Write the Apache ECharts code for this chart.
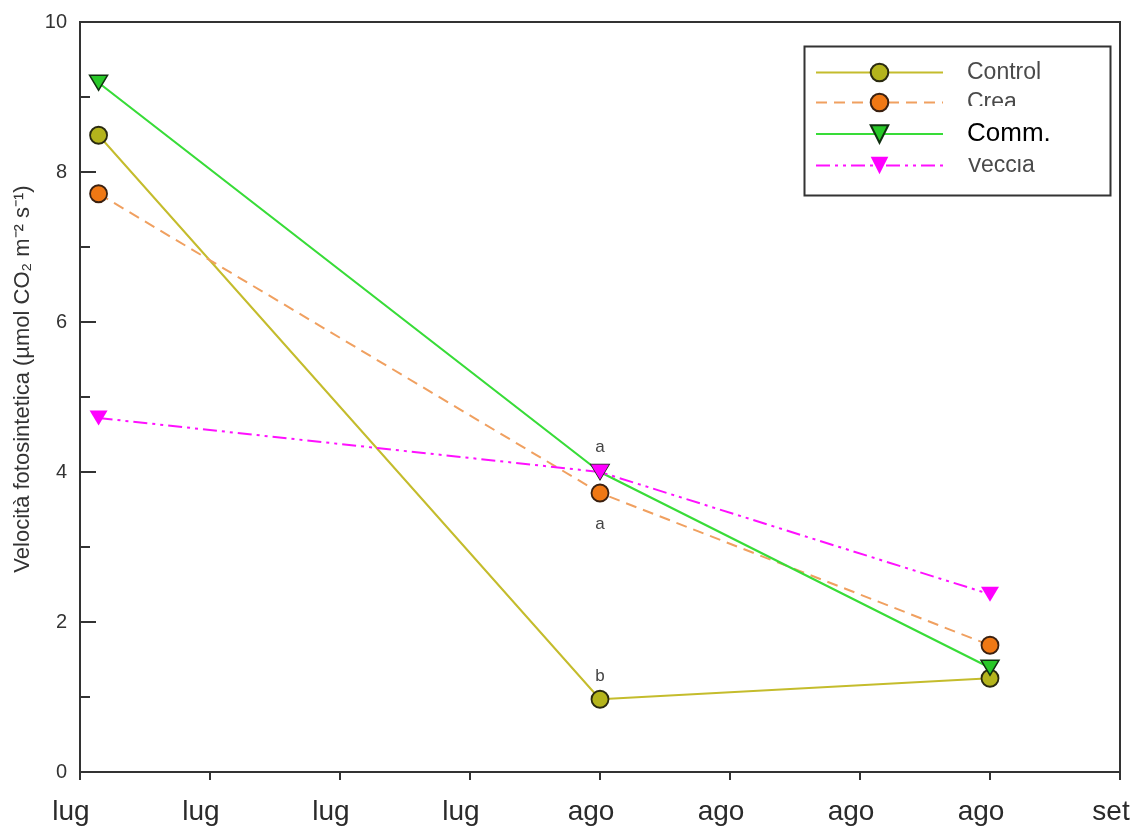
<!DOCTYPE html>
<html><head><meta charset="utf-8">
<script src="https://cdn.jsdelivr.net/npm/echarts@6/dist/echarts.min.js"></script>
<style>html,body{margin:0;padding:0;background:#fff}#c{width:1137px;height:832px}</style>
</head><body><div id="c"></div>
<script>
const tickLabels = ['lug','lug','lug','lug','ago','ago','ago','ago','set'];
const xDays = [1, 28, 49];
const control = [8.49, 0.97, 1.25];
const crea = [7.71, 3.72, 1.69];
const comm = [9.19, 4.0, 1.39];
const veccia = [4.72, 4.0, 2.37];
const seriesNames = ['Control', 'Crea', 'Comm.', 'Veccia'];
const annotations = [
  {series: 'Veccia', idx: 1, text: 'a', pos: 'top', dist: 9},
  {series: 'Crea', idx: 1, text: 'a', pos: 'bottom', dist: 13},
  {series: 'Control', idx: 1, text: 'b', pos: 'top', dist: 5}
];

function pts(vals, name) {
  return vals.map((v, i) => {
    const a = annotations.find(n => n.series === name && n.idx === i);
    const item = {value: [xDays[i], v]};
    if (a) {
      item.label = {show: true, formatter: a.text, position: a.pos,
        distance: a.dist, color: '#444', fontSize: 17,
        fontFamily: 'Liberation Sans'};
    }
    return item;
  });
}

const chart = echarts.init(document.getElementById('c'));
chart.setOption({
  backgroundColor: '#fff',
  animation: false,
  grid: {left: 80, right: 17, top: 22, bottom: 60, show: true,
    borderColor: '#333', borderWidth: 2, backgroundColor: 'transparent'},
  xAxis: {
    type: 'value', min: 0, max: 56, interval: 7,
    axisLine: {show: true, lineStyle: {color: '#333', width: 2}},
    axisTick: {show: true, length: 8, lineStyle: {color: '#333', width: 2}},
    splitLine: {show: false},
    axisLabel: {fontSize: 28, color: '#2a2a2a', margin: 26, fontFamily: 'Liberation Sans',
      padding: [0, 18, 0, 0],
      formatter: v => tickLabels[Math.round(v / 7)]}
  },
  yAxis: {
    type: 'value', min: 0, max: 10, interval: 2,
    name: 'Velocità fotosintetica (µmol CO\u2082 m\u207B\u00B2 s\u207B\u00B9)',
    nameLocation: 'middle', nameGap: 41, nameRotate: 90,
    nameTextStyle: {fontSize: 22, color: '#333', fontFamily: 'Liberation Sans',
      padding: [0, 0, 0, 36]},
    axisLine: {show: true, lineStyle: {color: '#333', width: 2}},
    axisTick: {show: true, inside: true, length: 16, lineStyle: {color: '#333', width: 2}},
    minorTick: {show: true, splitNumber: 2, length: 10, lineStyle: {color: '#333', width: 2}},
    splitLine: {show: false},
    axisLabel: {fontSize: 20, color: '#333', margin: 13, fontFamily: 'Liberation Sans'}
  },
  legend: {
    orient: 'vertical', left: 810, top: 56, itemWidth: 127, itemHeight: 22, itemGap: 7,
    data: [
      {name: 'Control'},
      {name: 'Crea'},
      {name: 'Comm.', textStyle: {fontSize: 26, color: '#000'}},
      {name: 'Veccia'}
    ],
    textStyle: {fontSize: 23, color: '#4a4a4a', padding: [0, 0, 0, 19], fontFamily: 'Liberation Sans'}
  },
  graphic: [
    {type: 'rect', left: 802, top: 44, shape: {width: 306, height: 149},
      style: {fill: 'none', stroke: '#333', lineWidth: 2}, z: 100},
    {type: 'rect', left: 966, top: 106, shape: {width: 100, height: 12},
      style: {fill: '#fff'}, z: 90},
    {type: 'rect', left: 966, top: 149, shape: {width: 100, height: 9},
      style: {fill: '#fff'}, z: 90}
  ],
  series: [
    {name: 'Control', type: 'line', data: pts(control, 'Control'),
      symbol: 'circle', symbolSize: 17,
      lineStyle: {color: '#c4bc2c', width: 2},
      itemStyle: {color: '#b4b41c', borderColor: '#2a2a10', borderWidth: 1.8}},
    {name: 'Crea', type: 'line', data: pts(crea, 'Crea'),
      symbol: 'circle', symbolSize: 17,
      lineStyle: {color: '#f0a060', width: 2, type: [11, 7]},
      itemStyle: {color: '#f07814', borderColor: '#3a2010', borderWidth: 1.8}},
    {name: 'Comm.', type: 'line', data: pts(comm, 'Comm.'),
      symbol: 'triangle', symbolRotate: 180, symbolSize: [18, 15],
      lineStyle: {color: '#38dc38', width: 2.2},
      itemStyle: {color: '#28c828', borderColor: '#103010', borderWidth: 1.5}},
    {name: 'Veccia', type: 'line', data: pts(veccia, 'Veccia'),
      symbol: 'triangle', symbolRotate: 180, symbolSize: [18, 15],
      lineStyle: {color: '#ff10ff', width: 2, type: [14, 5, 3, 5, 3, 5]},
      itemStyle: {color: '#ff00ff', borderWidth: 0}}
  ]
});
</script></body></html>
